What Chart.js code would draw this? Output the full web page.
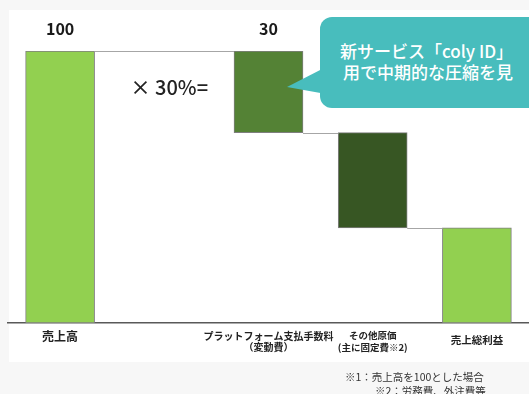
<!DOCTYPE html>
<html lang="ja">
<head>
<meta charset="utf-8">
<script src="https://cdn.jsdelivr.net/npm/chart.js@4.4.1/dist/chart.umd.min.js"></script>
<style>
  html, body {
    margin: 0;
    padding: 0;
    width: 529px;
    height: 394px;
    overflow: hidden;
    background: #f7f7f7;
    font-family: "Noto Sans CJK JP", "Noto Sans", sans-serif;
  }
  #panel { position: absolute; left: 9px; top: 10px; width: 530px; height: 352px; background: #fff; }
  #chart { position: absolute; left: 0; top: 0; }
  .overlay { position: absolute; left: 0; top: 0; }
  .bubble { position: absolute; left: 320px; top: 17px; width: 260px; height: 91px; background: #48bdbd; border-radius: 12px; }
  .bubble-text { position: absolute; color: #fff; font-size: 17px; font-weight: 500; white-space: nowrap; line-height: 20px; }
  .note { position: absolute; color: #333; font-size: 10.5px; white-space: nowrap; line-height: 14px; }
</style>
</head>
<body>
<div id="panel"></div>
<canvas id="chart" width="529" height="394"></canvas>
<svg class="overlay" width="529" height="394">
  <polygon points="287,87 326,67 326,94" fill="#48bdbd"/>
</svg>
<div class="bubble"></div>
<div class="bubble-text" style="left:340px; top:41px;">新サービス「coly ID」</div>
<div class="bubble-text" style="left:343px; top:62px;">用で中期的な圧縮を見</div>
<div class="note" style="left:345px; top:370px;">※1：売上高を100とした場合</div>
<div class="note" style="left:375px; top:384px;">※2：労務費、外注費等</div>

<script>
// Waterfall: sales -> platform fee -> other cost -> gross profit (sales = 100)
const categories = [
    '売上高',
    '',
    ['プラットフォーム支払手数料', '（変動費）'],
    ['その他原価', '(主に固定費※2)'],
    '売上総利益'
];
const amounts = [100, null, 30, 35, 35];
const kinds = ['total', 'blank', 'down', 'down', 'total'];
const valueLabels = ['100', '', '30', '', ''];
const multiplierText = '× 30%=';

// styles
const FONT = '"Noto Sans CJK JP", "Noto Sans", sans-serif';
const barColors = ['#92d050', null, '#548235', '#375623', '#92d050'];
const tickSizes = [12, 10, 10, 9.5, 10.5];
const tickLineHeights = [1.15, 1.15, 1.15, 1.2, 1.95];

// build floating ranges and the level each bar leaves behind
let running = 0;
const ranges = [];
const levels = [];
amounts.forEach((v, i) => {
    if (v === null) {
        ranges.push(null);
        levels.push(null);
        return;
    }
    if (kinds[i] === 'total') {
        running = v;
        ranges.push([0, v]);
    } else {
        ranges.push([running - v, running]);
        running -= v;
    }
    levels.push(running);
});

const waterfallDecor = {
    id: 'waterfallDecor',
    afterDatasetsDraw(chart) {
        const ctx = chart.ctx;
        const meta = chart.getDatasetMeta(0);
        const yScale = chart.scales.y;
        const xScale = chart.scales.x;

        // connector lines
        ctx.save();
        ctx.strokeStyle = '#a6a6a6';
        ctx.lineWidth = 1;
        let prev = -1;
        ranges.forEach((r, i) => {
            if (!r) return;
            if (prev >= 0) {
                const a = meta.data[prev];
                const b = meta.data[i];
                const py = Math.round(yScale.getPixelForValue(levels[prev])) + 0.5;
                ctx.beginPath();
                ctx.moveTo(a.x + a.width / 2, py);
                ctx.lineTo(b.x - b.width / 2, py);
                ctx.stroke();
            }
            prev = i;
        });

        // value labels above bars
        ctx.fillStyle = '#1a1a1a';
        ctx.font = 'bold 16px ' + FONT;
        ctx.textAlign = 'center';
        ctx.textBaseline = 'middle';
        meta.data.forEach((bar, i) => {
            if (!valueLabels[i]) return;
            ctx.fillText(valueLabels[i], bar.x, Math.min(bar.y, bar.base) - 22);
        });

        // multiplier note in the empty slot
        ctx.font = '500 20px ' + FONT;
        ctx.fillStyle = '#222';
        ctx.fillText(multiplierText, xScale.getPixelForValue(1) + 5, chart.chartArea.top + 36);
        ctx.restore();
    }
};

new Chart(document.getElementById('chart'), {
    type: 'bar',
    data: {
        labels: categories,
        datasets: [{
            data: ranges,
            backgroundColor: barColors,
            borderColor: '#7f7f7f',
            borderWidth: 1,
            borderSkipped: false,
            barThickness: 69
        }]
    },
    options: {
        responsive: false,
        animation: false,
        layout: { padding: { left: 8, right: 0, top: 51, bottom: 0 } },
        plugins: {
            legend: { display: false },
            tooltip: { enabled: false }
        },
        scales: {
            x: {
                grid: { display: false, drawTicks: false },
                border: { display: true, color: '#595959', width: 1.5 },
                ticks: {
                    padding: 7,
                    color: '#222',
                    maxRotation: 0,
                    autoSkip: false,
                    font: (c) => ({
                        family: FONT,
                        size: tickSizes[c.index],
                        weight: 'bold',
                        lineHeight: tickLineHeights[c.index]
                    })
                },
                afterFit: (scale) => { scale.height = 71; }
            },
            y: {
                display: false,
                min: 0,
                max: 100
            }
        }
    },
    plugins: [waterfallDecor]
});
</script>
</body>
</html>
